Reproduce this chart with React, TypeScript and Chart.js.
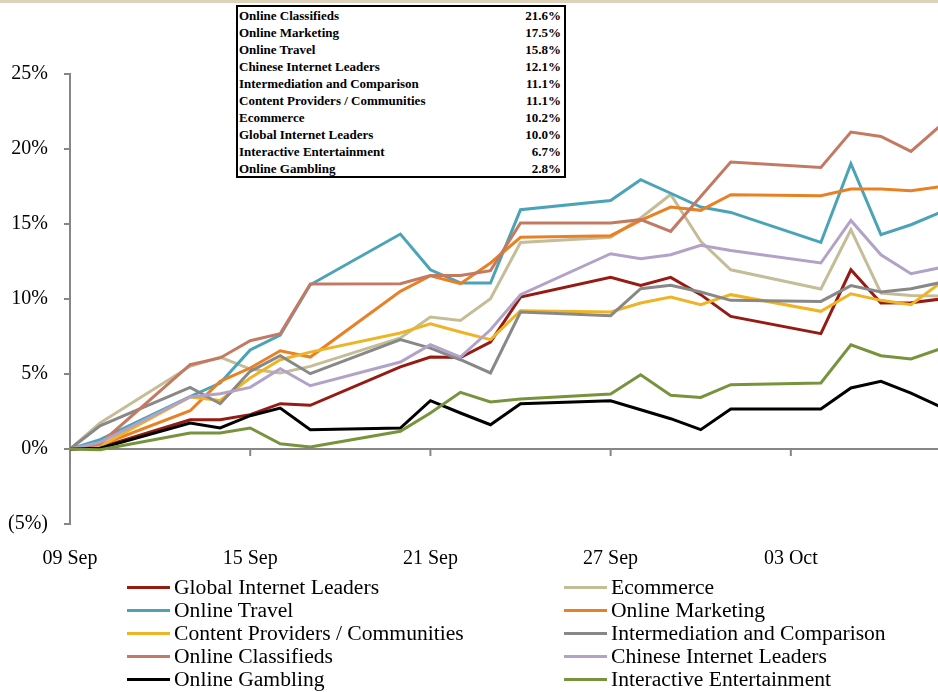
import React, { useEffect, useRef } from "react";
import { Chart, registerables } from "chart.js";

Chart.register(...registerables);

const dates = [
  "2010-09-09", "2010-09-10", "2010-09-13", "2010-09-14", "2010-09-15", "2010-09-16",
  "2010-09-17", "2010-09-20", "2010-09-21", "2010-09-22", "2010-09-23", "2010-09-24",
  "2010-09-27", "2010-09-28", "2010-09-29", "2010-09-30", "2010-10-01", "2010-10-04",
  "2010-10-05", "2010-10-06", "2010-10-07", "2010-10-08",
];

const tickDays = [0, 6, 12, 18, 24];
const tickLabels = ["09 Sep", "15 Sep", "21 Sep", "27 Sep", "03 Oct"];

const globalInternetLeaders = [0, 0.1, 1.95, 1.95, 2.29, 3.02, 2.91, 5.47, 6.13, 6.1, 7.13, 10.13, 11.44, 10.91, 11.44, 10.29, 8.84, 7.69, 11.95, 9.73, 9.75, 10.0];
const ecommerce = [0, 1.73, 5.51, 6.13, 5.33, 5.07, 5.51, 7.4, 8.8, 8.57, 10.02, 13.77, 14.11, 15.4, 16.97, 13.84, 11.95, 10.67, 14.62, 10.4, 10.24, 10.2];
const onlineTravel = [0, 0.62, 3.5, 4.4, 6.6, 7.6, 10.95, 14.33, 11.95, 11.07, 11.07, 15.95, 16.57, 17.95, 17.05, 16.13, 15.77, 13.77, 19.02, 14.29, 14.95, 15.8];
const onlineMarketing = [0, 0.25, 2.55, 4.51, 5.4, 6.55, 6.13, 10.51, 11.55, 11.02, 12.4, 14.11, 14.22, 15.24, 16.13, 15.91, 16.95, 16.89, 17.33, 17.33, 17.22, 17.5];
const contentProviders = [0, 0.2, 3.47, 3.24, 4.73, 5.95, 6.46, 7.73, 8.35, 7.8, 7.29, 9.22, 9.13, 9.73, 10.13, 9.62, 10.29, 9.18, 10.35, 9.91, 9.62, 11.1];
const intermediation = [0, 1.55, 4.11, 3.02, 5.18, 6.22, 5.02, 7.29, 6.73, 5.95, 5.07, 9.13, 8.89, 10.69, 10.91, 10.47, 9.91, 9.84, 10.89, 10.47, 10.69, 11.1];
const onlineClassifieds = [0, 0.35, 5.62, 6.07, 7.22, 7.69, 11.0, 11.02, 11.57, 11.57, 11.89, 15.07, 15.07, 15.29, 14.51, 16.84, 19.13, 18.77, 21.13, 20.84, 19.84, 21.6];
const chineseInternetLeaders = [0, 0.44, 3.47, 3.69, 4.11, 5.35, 4.22, 5.8, 6.95, 6.13, 7.95, 10.29, 13.02, 12.69, 12.95, 13.58, 13.24, 12.4, 15.24, 12.95, 11.69, 12.1];
const onlineGambling = [0, 0.05, 1.73, 1.4, 2.22, 2.73, 1.29, 1.4, 3.22, 2.4, 1.62, 3.02, 3.22, 2.62, 2.02, 1.29, 2.67, 2.67, 4.07, 4.51, 3.73, 2.8];
const interactiveEntertainment = [0, -0.05, 1.07, 1.07, 1.4, 0.35, 0.13, 1.18, 2.4, 3.78, 3.13, 3.33, 3.67, 4.95, 3.58, 3.44, 4.29, 4.4, 6.95, 6.22, 6.0, 6.7];

const seriesNames = [
  "Global Internet Leaders", "Ecommerce", "Online Travel", "Online Marketing",
  "Content Providers / Communities", "Intermediation and Comparison", "Online Classifieds",
  "Chinese Internet Leaders", "Online Gambling", "Interactive Entertainment",
];
const seriesValues = [
  globalInternetLeaders, ecommerce, onlineTravel, onlineMarketing, contentProviders,
  intermediation, onlineClassifieds, chineseInternetLeaders, onlineGambling, interactiveEntertainment,
];
const seriesColors = [
  "#951B13", "#C4BD97", "#4BA3B8", "#E98124", "#EFB425",
  "#888888", "#C47A62", "#B3A2C7", "#000000", "#77933C",
];

const tableNames = [
  "Online Classifieds", "Online Marketing", "Online Travel", "Chinese Internet Leaders",
  "Intermediation and Comparison", "Content Providers / Communities", "Ecommerce",
  "Global Internet Leaders", "Interactive Entertainment", "Online Gambling",
];
const tablePct = ["21.6%", "17.5%", "15.8%", "12.1%", "11.1%", "11.1%", "10.2%", "10.0%", "6.7%", "2.8%"];

const FONT = "'Liberation Serif', 'Times New Roman', serif";
const AXIS = "#868686";

const dayOf = (d: string) => Math.round((Date.parse(d) - Date.parse(dates[0])) / 86400000);

const zeroAxisPlugin = {
  id: "zeroAxis",
  beforeDatasetsDraw(chart: any) {
    const { ctx, chartArea, scales } = chart;
    const y0 = scales.y.getPixelForValue(0);
    ctx.save();
    ctx.strokeStyle = AXIS;
    ctx.lineWidth = 2;
    ctx.beginPath();
    ctx.moveTo(chartArea.left, y0);
    ctx.lineTo(chartArea.right, y0);
    scales.x.ticks.forEach((t: any) => {
      const x = scales.x.getPixelForValue(t.value);
      ctx.moveTo(x, y0);
      ctx.lineTo(x, y0 + 7);
    });
    ctx.stroke();
    ctx.restore();
  },
};

export default function App() {
  const ref = useRef<HTMLCanvasElement>(null);

  useEffect(() => {
    if (!ref.current) return;
    const n = seriesNames.length;
    const chart = new Chart(ref.current, {
      type: "line",
      data: {
        datasets: seriesNames.map((name, i) => ({
          label: name,
          data: seriesValues[i].map((v, j) => ({ x: dayOf(dates[j]), y: v })),
          borderColor: seriesColors[i],
          backgroundColor: seriesColors[i],
          borderWidth: 3,
          pointRadius: 0,
          tension: 0,
          fill: false,
          order: n - i,
        })),
      },
      options: {
        animation: false,
        responsive: false,
        devicePixelRatio: 1,
        layout: { padding: { top: 74, right: 0, bottom: 112, left: 0 } },
        plugins: { legend: { display: false }, tooltip: { enabled: false } },
        scales: {
          x: {
            type: "linear",
            min: 0,
            max: 28.9,
            border: { display: false },
            grid: { display: false, drawTicks: false },
            afterBuildTicks: (scale: any) => {
              scale.ticks = tickDays.map((v) => ({ value: v }));
            },
            afterFit: (scale: any) => {
              scale.height = 56;
            },
            ticks: {
              padding: 23,
              color: "#000",
              font: { family: FONT, size: 20 },
              maxRotation: 0,
              autoSkip: false,
              callback: (value: any) => {
                const k = tickDays.indexOf(Number(value));
                return k >= 0 ? tickLabels[k] : "";
              },
            },
          },
          y: {
            min: -5,
            max: 25,
            border: { display: true, color: AXIS, width: 2 },
            grid: { drawOnChartArea: false, drawTicks: true, tickLength: 6, color: AXIS, lineWidth: 2 },
            afterFit: (scale: any) => {
              scale.width = 70;
            },
            ticks: {
              stepSize: 5,
              padding: 16,
              color: "#000",
              font: { family: FONT, size: 20 },
              callback: (value: any) => {
                const v = Number(value);
                return v < 0 ? `(${-v}%)` : `${v}%`;
              },
            },
          },
        },
      },
      plugins: [zeroAxisPlugin],
    });
    return () => chart.destroy();
  }, []);

  return (
    <div style={{ position: "absolute", left: 0, top: 0, width: 938, height: 692, background: "#fff", overflow: "hidden" }}>
      <canvas ref={ref} width={938} height={692} style={{ position: "absolute", left: 0, top: 0, width: 938, height: 692 }} />
      <div style={{ position: "absolute", left: 0, top: 0, width: 938, height: 3, background: "#DED3BA" }} />
      <div
        style={{
          position: "absolute", left: 236, top: 5, width: 330, height: 173, boxSizing: "border-box",
          border: "2px solid #000", background: "#fff", padding: "0 3px 0 1px",
          fontFamily: FONT, fontWeight: "bold", fontSize: 13, color: "#000",
        }}
      >
        {tableNames.map((name, i) => (
          <div key={name} style={{ display: "flex", justifyContent: "space-between", height: 17, lineHeight: "17px", whiteSpace: "nowrap" }}>
            <span>{name}</span>
            <span>{tablePct[i]}</span>
          </div>
        ))}
      </div>
      {seriesNames.map((name, i) => {
        const col = i % 2;
        const row = Math.floor(i / 2);
        const left = col === 0 ? 127 : 564;
        const top = 587 + row * 23.1 - 12;
        return (
          <div
            key={name}
            style={{
              position: "absolute", left, top, height: 24, display: "flex", alignItems: "center",
              fontFamily: FONT, fontSize: 21.6, color: "#000", whiteSpace: "nowrap",
            }}
          >
            <span style={{ display: "inline-block", width: 43, height: 3, background: seriesColors[i], marginRight: 4 }} />
            <span>{name}</span>
          </div>
        );
      })}
    </div>
  );
}
